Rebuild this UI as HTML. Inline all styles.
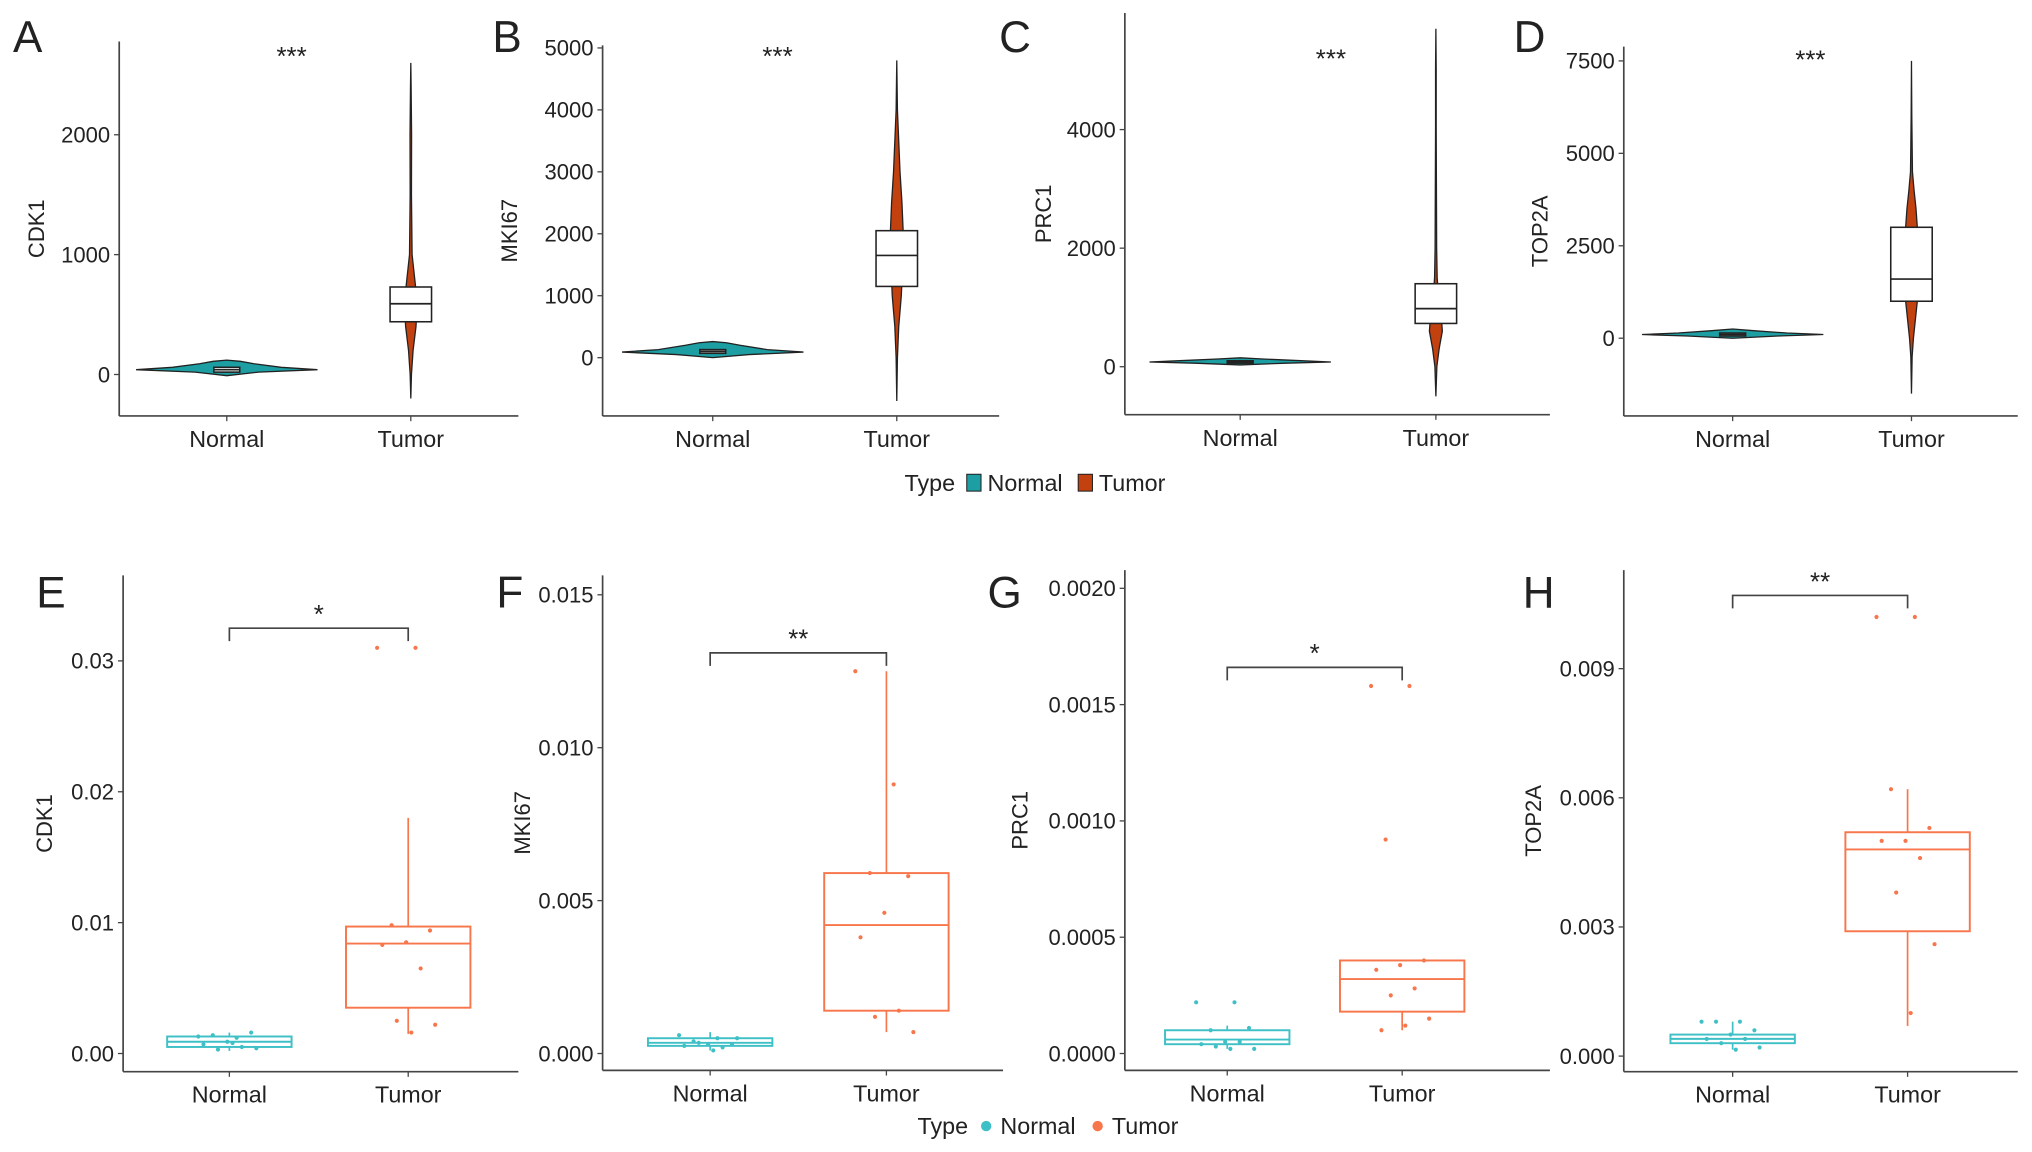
<!DOCTYPE html>
<html><head><meta charset="utf-8"><style>
html,body{margin:0;padding:0;background:#fff}
svg{display:block}
text{font-family:"Liberation Sans",sans-serif;fill:#222}
</style></head><body>
<svg id="fig" width="2032" height="1152" viewBox="0 0 1568 889" preserveAspectRatio="none" xmlns="http://www.w3.org/2000/svg"></svg>
<script>
// ---------- data ----------
const groups = ["Normal","Tumor"];
const topGenes = ["CDK1","MKI67","PRC1","TOP2A"];
const topLetters = ["A","B","C","D"];
const topTicks = [[0,1000,2000],[0,1000,2000,3000,4000,5000],[0,2000,4000],[0,2500,5000,7500]];
const topSig = ["***","***","***","***"];
// violin profiles: values and relative densities
const normViolinVals = [[-10,20,40,60,90,110,120],[0,50,90,130,200,240,260],[30,60,80,100,130,150],[0,60,100,140,200,250]];
const normViolinDens = [[0,0.35,1,0.6,0.3,0.15,0],[0,0.4,1,0.6,0.3,0.15,0],[0,0.5,1,0.7,0.25,0],[0,0.5,1,0.6,0.25,0]];
const tumViolinVals = [[-200,0,200,400,600,800,1000,1500,2000,2400,2600],[-700,0,500,1000,1500,2000,2500,3000,3500,4000,4800],[-500,0,300,600,900,1200,1500,2000,2600,4000,5000,5700],[-1500,-500,0,500,1000,2000,3000,3500,4000,4500,6000,7500]];
const tumViolinDens = [[0,0.1,0.35,0.8,1,0.6,0.2,0.1,0.12,0.05,0],[0,0.1,0.3,0.7,0.9,1,0.8,0.5,0.3,0.1,0],[0,0.15,0.5,1,0.8,0.4,0.2,0.12,0.1,0.05,0.05,0],[0,0.1,0.3,0.6,0.9,1,0.9,0.7,0.4,0.15,0.05,0]];
const normBox = [[20,40,60],[70,100,130],[60,80,100],[60,100,140]];
const tumBox = [[440,590,730],[1150,1650,2050],[730,980,1400],[1000,1600,3000]];

const botLetters = ["E","F","G","H"];
const botTicks = [[0,0.01,0.02,0.03],[0,0.005,0.010,0.015],[0,0.0005,0.0010,0.0015,0.0020],[0,0.003,0.006,0.009]];
const botTickLabels = [["0.00","0.01","0.02","0.03"],["0.000","0.005","0.010","0.015"],["0.0000","0.0005","0.0010","0.0015","0.0020"],["0.000","0.003","0.006","0.009"]];
const botSig = ["*","**","*","**"];
const botBracket = [0.0325,0.0131,0.00166,0.0107];
// box stats: [whiskerLow, q1, median, q3, whiskerHigh]
const botNormBox = [[0.0002,0.0005,0.0009,0.0013,0.0016],[0.0001,0.00025,0.00035,0.0005,0.0007],[0.00002,0.00004,0.00006,0.0001,0.00012],[0.00015,0.0003,0.0004,0.0005,0.0008]];
const botTumBox = [[0.0015,0.0035,0.0084,0.0097,0.018],[0.0007,0.0014,0.0042,0.0059,0.0125],[0.0001,0.00018,0.00032,0.0004,0.0004],[0.0007,0.0029,0.0048,0.0052,0.0062]];
const botNormPts = [[0.0013,0.0012,0.0014,0.0016,0.0009,0.0007,0.0005,0.0003,0.0004,0.0008],[0.0006,0.0005,0.0004,0.0003,0.0003,0.00025,0.0002,0.00035,0.0005,0.0001],[0.00022,0.00022,0.0001,0.00011,0.00005,0.00004,0.00005,0.00003,0.00002,0.00002],[0.0008,0.0008,0.0008,0.0006,0.0005,0.0004,0.0004,0.0003,0.0002,0.00015]];
const botTumPts = [[0.031,0.031,0.0098,0.0094,0.0085,0.0083,0.0065,0.0025,0.0022,0.0016],[0.0125,0.0088,0.0059,0.0058,0.0046,0.0038,0.0014,0.0012,0.0007],[0.00158,0.00158,0.00092,0.0004,0.00038,0.00036,0.00028,0.00025,0.00015,0.00012,0.0001],[0.0102,0.0102,0.0062,0.0053,0.005,0.005,0.0046,0.0038,0.0026,0.001]];

// ---------- layout ----------
const topLayout = [
 {x0:92,x1:400,top:32,base:321,v0:0,p0:289,v1:2000,p1:104,cx:[175,317],lx:10,ly:40,tx:34,sy:40,sx:225},
 {x0:465,x1:771,top:35,base:321,v0:0,p0:276,v1:5000,p1:37,cx:[550,692],lx:380,ly:40,tx:399,sy:40,sx:600},
 {x0:868,x1:1196,top:10,base:320,v0:0,p0:283,v1:4000,p1:100,cx:[957,1108],lx:771,ly:40,tx:811,sy:42,sx:1027},
 {x0:1253,x1:1557,top:36,base:321,v0:0,p0:261,v1:7500,p1:47,cx:[1337,1475],lx:1168,ly:40,tx:1194,sy:43,sx:1397}];
const botLayout = [
 {x0:95,x1:400,top:444,base:827,v0:0,p0:813,v1:0.03,p1:510,cx:[177,315],lx:28,ly:469,tx:40},
 {x0:465,x1:774,top:444,base:826,v0:0,p0:813,v1:0.015,p1:459,cx:[548,684],lx:383,ly:469,tx:409},
 {x0:868,x1:1196,top:440,base:826,v0:0,p0:813,v1:0.002,p1:454,cx:[947,1082],lx:762,ly:469,tx:793},
 {x0:1253,x1:1557,top:440,base:827,v0:0,p0:815,v1:0.009,p1:516,cx:[1337,1472],lx:1175,ly:469,tx:1189}];

const svg = document.getElementById('fig');
const NS = "http://www.w3.org/2000/svg";
function mk(tag, attrs, parent){const e=document.createElementNS(NS,tag);for(const k in attrs)e.setAttribute(k,attrs[k]);(parent||svg).appendChild(e);return e;}
function txt(s,attrs,parent){const e=mk('text',attrs,parent);e.textContent=s;return e;}
function scaleFn(L){return v=>L.p0+(v-L.v0)*(L.p1-L.p0)/(L.v1-L.v0);}

function axes(g,L,ticks,labels,title,letter){
  const y=scaleFn(L);
  const ax=mk('g',{},g);
  
  
  mk('line',{x1:L.x0,y1:L.top,x2:L.x0,y2:L.base,stroke:'#444','stroke-width':1.3},ax);
  mk('line',{x1:L.x0,y1:L.base,x2:L.x1,y2:L.base,stroke:'#444','stroke-width':1.3},ax);
  ticks.forEach((t,i)=>{
    const yy=y(t);
    mk('line',{x1:L.x0-4,y1:yy,x2:L.x0,y2:yy,stroke:'#444'},ax);
    const tl=txt(labels[i],{x:L.x0-7,y:yy+6,'text-anchor':'end','font-size':17},ax);
    
    
  });
  groups.forEach((gname,i)=>{
    mk('line',{x1:L.cx[i],y1:L.base,x2:L.cx[i],y2:L.base+4,stroke:'#444'},ax);
    const xl=txt(gname,{x:L.cx[i],y:L.base+24,'text-anchor':'middle','font-size':18},ax);
    
    
  });
  const tyc=(L.top+L.base)/2;
  const yt=txt(title,{x:0,y:0,'text-anchor':'middle','font-size':17,transform:`translate(${L.tx},${tyc}) rotate(-90)`},ax);
  
  
  const lt=txt(letter,{x:L.lx,y:L.ly,'font-size':34},ax);
  
  
  return y;
}

function violin(g,cx,vals,dens,maxw,y,fill){
  let pts=[];
  vals.forEach((v,i)=>pts.push([cx+dens[i]*maxw,y(v)]));
  for(let i=vals.length-1;i>=0;i--)pts.push([cx-dens[i]*maxw,y(vals[i])]);
  const p=mk('polygon',{points:pts.map(p=>p.join(',')).join(' '),fill:fill,stroke:'#222','stroke-width':1},g);
  
  
}

// top row
topGenes.forEach((gene,k)=>{
  const L=topLayout[k];
  const g=mk('g',{});
  
  
  const y=axes(g,L,topTicks[k],topTicks[k].map(String),gene,topLetters[k]);
  violin(g,L.cx[0],normViolinVals[k],normViolinDens[k],70,y,'#1c9ea3');
  violin(g,L.cx[1],tumViolinVals[k],tumViolinDens[k],5,y,'#c3400f');
  [[normBox[k],L.cx[0],10],[tumBox[k],L.cx[1],16]].forEach(([b,cx,hw])=>{
    const r=mk('rect',{x:cx-hw,y:y(b[2]),width:hw*2,height:Math.max(1,y(b[0])-y(b[2])),fill:'#fff',stroke:'#222','stroke-width':1.2},g);
    
    
    mk('line',{x1:cx-hw,x2:cx+hw,y1:y(b[1]),y2:y(b[1]),stroke:'#222','stroke-width':1.3},g);
  });
  const s=txt(topSig[k],{x:L.sx,y:L.sy+10,'text-anchor':'middle','font-size':20},g);
  
  
});

// bottom row
const bColors=['#3fc0c6','#f7764c'];
botLetters.forEach((letter,k)=>{
  const L=botLayout[k];
  const g=mk('g',{});
  
  
  const y=axes(g,L,botTicks[k],botTickLabels[k],topGenes[k],letter);
  [[botNormBox[k],botNormPts[k]],[botTumBox[k],botTumPts[k]]].forEach(([b,pts],i)=>{
    const cx=L.cx[i], hw=48, c=bColors[i];
    mk('line',{x1:cx,x2:cx,y1:y(b[0]),y2:y(b[1]),stroke:c,'stroke-width':1.3},g);
    mk('line',{x1:cx,x2:cx,y1:y(b[3]),y2:y(b[4]),stroke:c,'stroke-width':1.3},g);
    const r=mk('rect',{x:cx-hw,y:y(b[3]),width:hw*2,height:Math.max(1,y(b[1])-y(b[3])),fill:'none',stroke:c,'stroke-width':1.5},g);
    
    
    mk('line',{x1:cx-hw,x2:cx+hw,y1:y(b[2]),y2:y(b[2]),stroke:c,'stroke-width':1.5},g);
    pts.forEach((v,j)=>{
      const off=((j*37)%60)-30;
      const d=mk('circle',{cx:cx+off*0.8,cy:y(v),r:1.6,fill:c},g);
      
      
    });
  });
  const by=y(botBracket[k]);
  const br=mk('path',{d:`M${L.cx[0]},${by+10} V${by} H${L.cx[1]} V${by+10}`,fill:'none',stroke:'#444','stroke-width':1.3},g);
  
  
  const s=txt(botSig[k],{x:(L.cx[0]+L.cx[1])/2,y:by-4,'text-anchor':'middle','font-size':20},g);
  
  
});

// legends
function legend(x,y,shape,cols,name){
  const g=mk('g',{});
  
  
  txt('Type',{x:x,y:y,'font-size':18},g);
  let cx=x+48;
  groups.forEach((gn,i)=>{
    if(shape==='sq'){mk('rect',{x:cx,y:y-13,width:11,height:13,fill:cols[i],stroke:'#222','stroke-width':0.8},g);}
    else{mk('circle',{cx:cx+5,cy:y-6,r:4,fill:cols[i]},g);}
    const t=txt(gn,{x:cx+16,y:y,'font-size':18},g);
    
    
    cx+=i===0?86:0;
  });
}
legend(698,379,'sq',['#1c9ea3','#c3400f'],'legend-top');
legend(708,875,'ci',bColors,'legend-bottom');
</script>
</body></html>
